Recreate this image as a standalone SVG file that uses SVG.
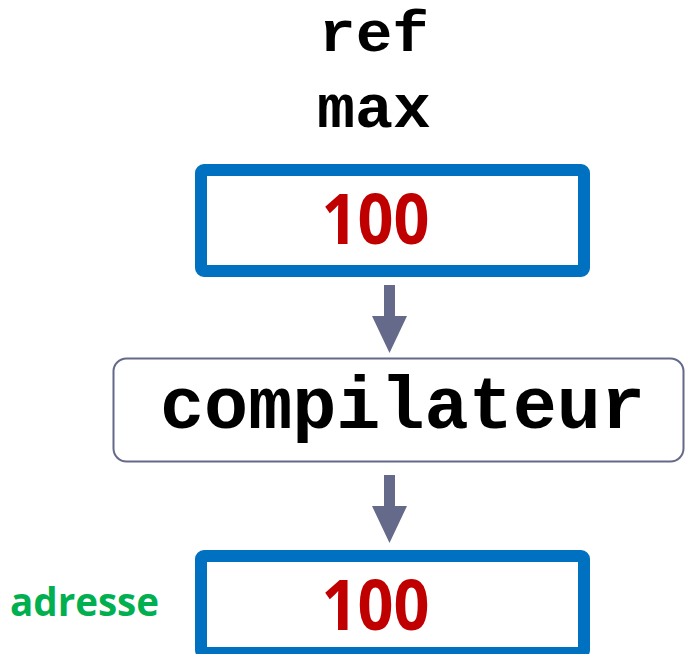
<svg xmlns="http://www.w3.org/2000/svg" width="685" height="654" viewBox="0 0 685 654">
  <style>
    .mono { font-family: "Liberation Mono", "Courier New", monospace; font-weight: bold; fill: #000000; }
    .cell { fill: #FFFFFF; stroke: #0070C0; stroke-width: 12; }
    .val { font-family: "Open Sans", "Noto Sans", sans-serif; font-weight: bold; fill: #C00000; font-size: 70px; }
    .proc { fill: #FFFFFF; stroke: #65698A; stroke-width: 2; }
    .arrow { fill: #656A8A; }
    .label { font-family: "Open Sans", "Noto Sans", sans-serif; font-weight: bold; fill: #00B050; font-size: 39px; }
  </style>

  <!-- source identifiers -->
  <g id="ref">
    <text class="mono" x="374" y="51" font-size="58" text-anchor="middle" textLength="110" lengthAdjust="spacingAndGlyphs">ref</text>
  </g>
  <g id="max">
    <text class="mono" x="374" y="127" font-size="62" text-anchor="middle" textLength="114" lengthAdjust="spacingAndGlyphs">max</text>
  </g>

  <!-- value cell before compilation -->
  <g id="value-in">
    <rect class="cell" x="201" y="170" width="383" height="101" rx="3"/>
    <text class="val" x="375.5" y="244" text-anchor="middle" textLength="108" lengthAdjust="spacingAndGlyphs">100</text>
  </g>

  <!-- compiler -->
  <g id="compilateur">
    <rect class="proc" x="113.5" y="358.5" width="570" height="103" rx="13"/>
    <text class="mono" x="402.5" y="428" font-size="74" text-anchor="middle" textLength="485" lengthAdjust="spacingAndGlyphs">compilateur</text>
  </g>

  <!-- resulting address cell -->
  <g id="value-out">
    <rect class="cell" x="201" y="556" width="383" height="97" rx="3"/>
    <text class="val" x="375.5" y="630" text-anchor="middle" textLength="108" lengthAdjust="spacingAndGlyphs">100</text>
  </g>
  <g id="adresse">
    <text class="label" x="10" y="616" textLength="149" lengthAdjust="spacingAndGlyphs">adresse</text>
  </g>

  <!-- block arrows -->
  <g id="connectors">
    <path class="arrow" d="M384,285 H395 V316 H407 L389.5,353 L372,316 H384 Z"/>
    <path class="arrow" d="M384,475 H395 V506 H407 L389.5,543 L372,506 H384 Z"/>
  </g>
</svg>
